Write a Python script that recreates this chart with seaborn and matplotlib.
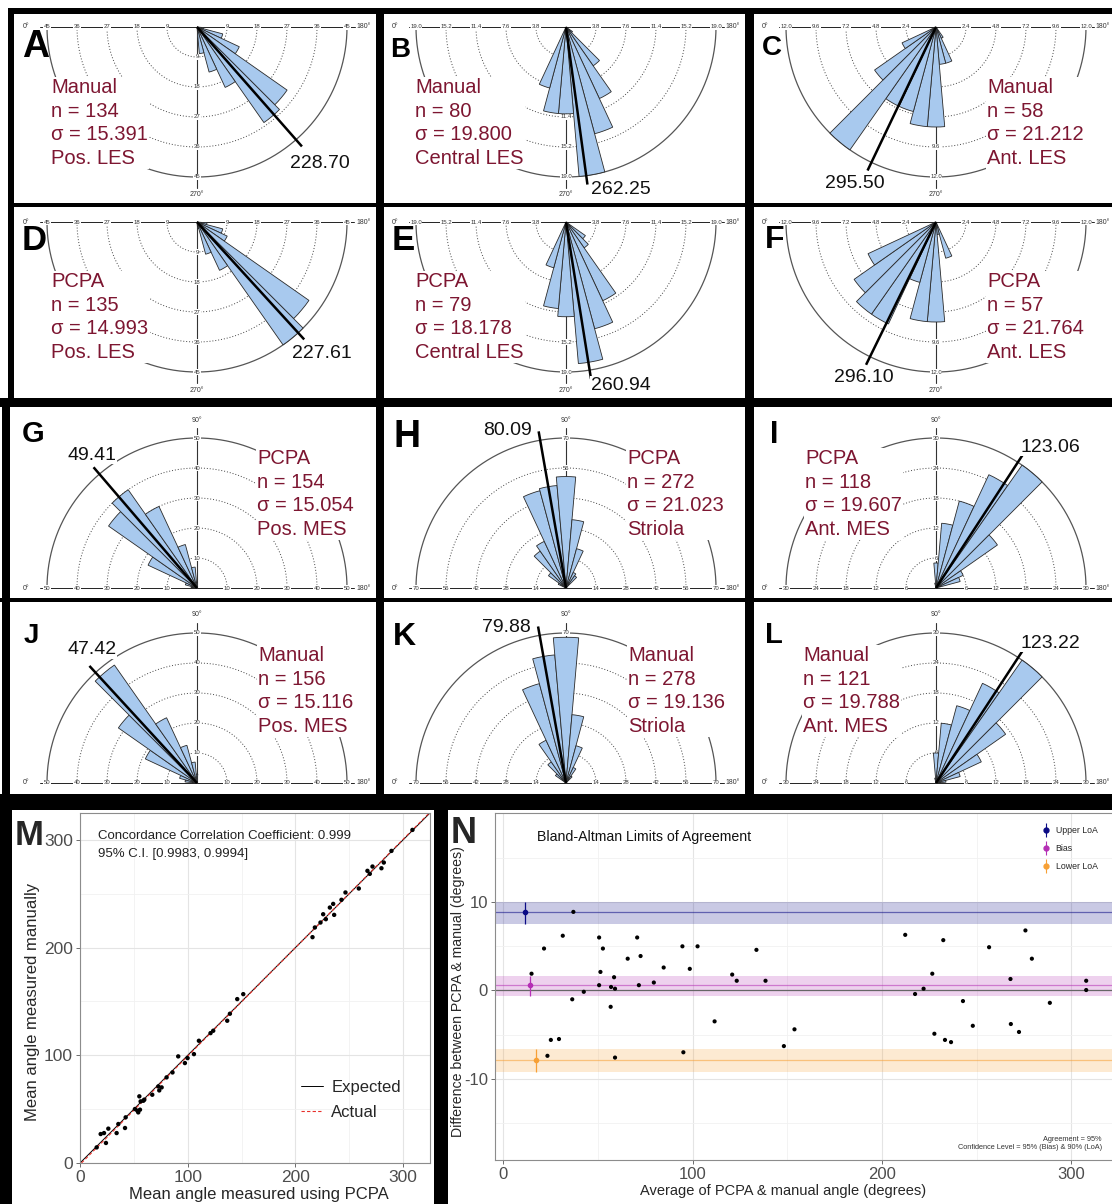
import numpy as np
import seaborn as sns
import matplotlib.pyplot as plt
from matplotlib import font_manager
from matplotlib.patches import Rectangle
from matplotlib.lines import Line2D
from matplotlib.legend_handler import HandlerTuple

# ---- rose diagrams: bin centre (deg) and count per 10 degree bin ----
A_bins = [190, 200, 210, 220, 230, 240, 250, 260]
A_counts = [2, 8, 14, 33, 35, 20, 14, 8]
B_bins = [220, 230, 240, 250, 260, 270, 280, 290]
B_counts = [1, 6, 10, 14, 19, 11, 11, 8]
C_bins = [240, 250, 260, 270, 280, 290, 300, 310, 320, 330]
C_counts = [1, 3, 3, 8, 8, 7, 7, 12, 6, 3]
D_bins = [190, 200, 210, 220, 230, 240, 250, 260]
D_counts = [3, 8, 10, 41, 45, 16, 10, 2]
E_bins = [220, 230, 240, 250, 260, 270, 280, 290]
E_counts = [3, 4, 11, 14, 18, 12, 11, 6]
F_bins = [250, 260, 270, 280, 290, 300, 310, 320, 330]
F_counts = [3, 1, 8, 8, 5, 9, 9, 8, 6]
G_bins = [10, 20, 30, 40, 50, 60, 70, 80, 90]
G_counts = [2, 4, 18, 36, 40, 30, 15, 7, 2]
H_bins = [30, 40, 50, 60, 70, 80, 90, 100, 110, 120, 130]
H_counts = [4, 10, 21, 24, 47, 48, 52, 32, 19, 8, 7]
I_bins = [80, 90, 100, 110, 120, 130, 140, 150, 160]
I_counts = [1, 5, 13, 18, 25, 30, 15, 6, 5]
J_bins = [10, 20, 30, 40, 50, 60, 70, 80, 90]
J_counts = [4, 6, 19, 32, 48, 24, 13, 7, 3]
K_bins = [40, 50, 60, 70, 80, 90, 100, 110, 120, 130]
K_counts = [6, 12, 22, 48, 60, 68, 32, 18, 8, 4]
L_bins = [80, 90, 100, 110, 120, 130, 140, 150, 160, 170]
L_counts = [1, 6, 12, 16, 22, 30, 17, 10, 5, 2]

rose_bins = [A_bins, B_bins, C_bins, D_bins, E_bins, F_bins,
             G_bins, H_bins, I_bins, J_bins, K_bins, L_bins]
rose_counts = [A_counts, B_counts, C_counts, D_counts, E_counts, F_counts,
               G_counts, H_counts, I_counts, J_counts, K_counts, L_counts]

letters = ["A", "B", "C", "D", "E", "F", "G", "H", "I", "J", "K", "L"]
methods = ["Manual", "Manual", "Manual", "PCPA", "PCPA", "PCPA",
           "PCPA", "PCPA", "PCPA", "Manual", "Manual", "Manual"]
n_obs = [134, 80, 58, 135, 79, 57, 154, 272, 118, 156, 278, 121]
sigmas = ["15.391", "19.800", "21.212", "14.993", "18.178", "21.764",
          "15.054", "21.023", "19.607", "15.116", "19.136", "19.788"]
regions = ["Pos. LES", "Central LES", "Ant. LES", "Pos. LES", "Central LES", "Ant. LES",
           "Pos. MES", "Striola", "Ant. MES", "Pos. MES", "Striola", "Ant. MES"]
mean_dir = [228.70, 262.25, 295.50, 227.61, 260.94, 296.10,
            49.41, 80.09, 123.06, 47.42, 79.88, 123.22]
r_max = [45, 19.0, 12.0, 45, 19.0, 12.0, 50, 70, 30, 50, 70, 30]
tick_fmt = ["{:.0f}", "{:.1f}", "{:.1f}", "{:.0f}", "{:.1f}", "{:.1f}",
            "{:.0f}", "{:.0f}", "{:.0f}", "{:.0f}", "{:.0f}", "{:.0f}"]

# ---- M: mean angle per sample ----
m_pcpa = [15.5, 19.2, 22.3, 24.1, 26.3, 34.0, 35.6, 41.8, 42.4, 51.0, 53.2, 54.1, 55.1,
          55.7, 56.3, 58.8, 59.7, 67.1, 72.7, 73.6, 75.8, 80.4, 85.9, 91.2, 97.4, 99.9,
          105.8, 110.4, 121.2, 123.7, 136.7, 139.2, 146.0, 151.6, 215.9, 218.1, 223.3,
          225.8, 228.3, 232.0, 235.1, 236.0, 242.8, 246.5, 258.9, 266.9, 269.1, 271.6,
          279.9, 282.1, 289.2, 308.7]
m_manual = [14.5, 26.9, 27.8, 18.6, 31.9, 27.8, 36.2, 32.5, 42.4, 50.1, 48.6, 47.0, 61.9,
            49.5, 57.2, 57.8, 58.8, 63.4, 71.1, 67.4, 70.2, 79.5, 84.1, 99.0, 92.8, 97.4,
            101.1, 113.5, 120.6, 122.8, 132.1, 138.6, 152.2, 156.8, 209.7, 218.7, 223.3,
            231.0, 226.4, 237.2, 240.6, 230.4, 244.4, 251.2, 254.9, 271.3, 268.5, 275.3,
            273.7, 279.0, 289.8, 309.3]

# ---- N: Bland-Altman ----
n_avg = [14.9, 21.5, 23.3, 25.1, 29.4, 31.4, 36.4, 37.0, 42.5, 50.6, 50.6, 51.3, 52.6,
         56.7, 56.9, 58.5, 59.0, 59.0, 65.7, 70.7, 71.6, 72.5, 79.5, 84.7, 94.6, 95.1,
         98.5, 102.6, 111.6, 120.9, 123.3, 133.7, 138.5, 148.2, 153.8, 212.3, 217.5,
         222.0, 226.6, 227.7, 232.4, 233.3, 236.5, 242.8, 248.0, 256.6, 267.9, 268.1,
         272.4, 275.8, 279.2, 288.7, 307.9, 307.9]
n_diff = [1.9, 4.75, -7.4, -5.6, -5.5, 6.2, -1.0, 8.9, -0.15, 6.0, 0.6, 2.1, 4.75,
          -1.85, 0.4, 1.5, 0.2, -7.6, 3.6, 6.0, 0.6, 3.9, 0.9, 2.6, 5.0, -7.0,
          2.45, 5.0, -3.5, 1.8, 1.1, 4.6, 1.1, -6.3, -4.4, 6.3, -0.4,
          0.2, 1.9, -4.9, 5.7, -5.6, -5.85, -1.2, -4.0, 4.9, 1.3, -3.8,
          -4.7, 6.8, 3.6, -1.4, 1.1, 0.05]
loa_names = ["Upper LoA", "Bias", "Lower LoA"]
loa_est = [8.87, 0.57, -7.85]
loa_lo = [7.5, -0.6, -9.2]
loa_hi = [10.05, 1.66, -6.6]
loa_x = [11.3, 14.2, 17.2]
loa_colors = ["#0b0b85", "#b52fb5", "#f7a035"]

# ---------------- layout (pixels, from top-left) ----------------
W, H, DPI = 1112, 1204, 100
R = 150
col_cx = [197, 566, 936]
row_cy = [27, 222, 588, 783]
stats_xy = [(51, 123), (415, 123), (987, 123), (51, 317), (415, 317), (987, 317),
            (257, 494), (627, 494), (805, 494), (258, 691), (628, 691), (803, 691)]
mean_xy = [(320, 163), (621, 190), (855, 184), (322, 354), (621, 385), (864, 377),
           (92, 455), (508, 430), (1050, 447), (92, 650), (506, 627), (1050, 643)]
letter_xy = [(22, 57), (390, 57), (762, 55), (22, 250), (392, 250), (765, 248),
             (22, 442), (393, 447), (770, 443), (24, 643), (393, 645), (765, 643)]
letter_size = [27, 20, 20, 25, 25, 23, 21, 27, 22, 20, 23, 21]
borders = [(8, 8, 1112, 14), (8, 8, 14, 400), (2, 398, 10, 800), (0, 794, 12, 1204),
           (376, 8, 384, 800), (745, 8, 754, 800), (8, 203, 1112, 207),
           (0, 398, 1112, 407), (0, 598, 1112, 602), (0, 794, 1112, 810),
           (434, 800, 448, 1204)]

STAT_COLOR = "#7d1631"
BAR_COLOR = "#a8c9ee"

sns.set_theme(style="white")
plt.rcParams["font.family"] = ["Liberation Sans", "DejaVu Sans"]
plt.rcParams["axes.unicode_minus"] = False
installed = {f.name for f in font_manager.fontManager.ttflist}
NARROW = "Liberation Sans Narrow" if "Liberation Sans Narrow" in installed else "Liberation Sans"


def fx(px):
    return px / W


def fy(py):
    return 1 - py / H


fig = plt.figure(figsize=(W / DPI, H / DPI), dpi=DPI)
fig.patch.set_facecolor("white")

# ---------------- rose diagrams ----------------
for i in range(12):
    row, col = divmod(i, 3)
    cx, cy = col_cx[col], row_cy[row]
    upper = row >= 2
    rmax = r_max[i]
    ax = fig.add_axes([fx(cx - R), fy(cy + R), 2 * R / W, 2 * R / H], projection="polar")
    ax.set_theta_zero_location("W")
    ax.set_theta_direction(-1)
    ax.set_ylim(0, rmax)
    ax.axis("off")

    a0, a1 = (0, 180) if upper else (180, 360)
    vert = 90 if upper else 270
    arc = np.deg2rad(np.linspace(a0, a1, 241))
    ticks = [rmax * k / 5 for k in range(1, 6)]
    for r in ticks[:-1]:
        ax.plot(arc, np.full_like(arc, r), ls=(0, (1, 2)), color="#444444", lw=0.7,
                zorder=1, clip_on=False)
    ax.plot(arc, np.full_like(arc, rmax), color="#555555", lw=0.9, zorder=1, clip_on=False)
    for t in (0, 180):
        ax.plot(np.deg2rad([t, t]), [0, 1.05 * rmax], color="#222222", lw=0.7,
                zorder=1, clip_on=False)
    ax.plot(np.deg2rad([vert, vert]), [0, 1.07 * rmax], color="#333333", lw=0.8,
            zorder=1, clip_on=False)
    for r in ticks:
        lab = tick_fmt[i].format(r)
        for t in (0, 180, vert):
            ax.text(np.deg2rad(t), r, lab, fontsize=4.3, color="#333333", ha="center",
                    va="center", zorder=2,
                    bbox=dict(fc="white", ec="none", pad=0.4))
    ax.text(0, 1.14 * rmax, "0°", fontsize=5, color="#333333", ha="center", va="center")
    ax.text(np.pi, 1.11 * rmax, "180°", fontsize=5, color="#333333", ha="center", va="center")
    ax.text(np.deg2rad(vert), 1.12 * rmax, f"{vert}°", fontsize=5, color="#333333",
            ha="center", va="center")

    ax.bar(np.deg2rad(rose_bins[i]), rose_counts[i], width=np.deg2rad(10),
           color=BAR_COLOR, edgecolor="#2a2a2a", linewidth=0.6, zorder=3, clip_on=False)
    md = np.deg2rad(mean_dir[i])
    ax.plot([md, md], [0, 1.06 * rmax], color="black", lw=1.8, zorder=4,
            clip_on=False, solid_capstyle="butt")

    mx, my = mean_xy[i]
    fig.text(fx(mx), fy(my), f"{mean_dir[i]:.2f}", fontsize=14, ha="center", va="center",
             color="#111111", bbox=dict(fc="white", ec="none", pad=0.5))
    sx, sy = stats_xy[i]
    fig.text(fx(sx), fy(sy), f"{methods[i]}\nn = {n_obs[i]}\nσ = {sigmas[i]}\n{regions[i]}",
             fontsize=14.5, ha="left", va="center", color=STAT_COLOR, linespacing=1.3,
             bbox=dict(fc="white", ec="none", pad=1))
    lx, ly = letter_xy[i]
    fig.text(fx(lx), fy(ly), letters[i], fontsize=letter_size[i], fontweight="bold",
             ha="left", va="baseline", color="black")

# ---------------- M: concordance ----------------
axm = fig.add_axes([fx(80), fy(1163), 350 / W, 350 / H])
axm.set_facecolor("white")
sns.scatterplot(x=m_pcpa, y=m_manual, color="black", s=10, edgecolor="none", ax=axm,
                zorder=3)
axm.axline((0, 0), slope=1, color="black", lw=0.7, label="Expected", zorder=2)
fit = np.polyfit(m_pcpa, m_manual, 1)
axm.axline((0, fit[1]), slope=fit[0], color="#e8302a", lw=0.8, ls=(0, (3, 2)),
           label="Actual", zorder=2)
axm.set_xlim(0, 325)
axm.set_ylim(0, 325)
axm.set_xticks([0, 100, 200, 300])
axm.set_yticks([0, 100, 200, 300])
axm.set_xticks([50, 150, 250], minor=True)
axm.set_yticks([50, 150, 250], minor=True)
axm.grid(True, which="major", color="#e4e4e4", lw=0.8)
axm.grid(True, which="minor", color="#f1f1f1", lw=0.6)
axm.set_axisbelow(True)
axm.tick_params(which="major", labelsize=12.5, labelcolor="#4d4d4d", length=3,
                color="#555555", width=0.6, left=True, bottom=True, pad=2)
axm.tick_params(which="minor", length=0)
for sp in axm.spines.values():
    sp.set_color("#8c8c8c")
    sp.set_linewidth(0.8)
axm.set_xlabel("Mean angle measured using PCPA", fontsize=12)
axm.set_ylabel("Mean angle measured manually", fontsize=12)
axm.xaxis.set_label_coords(0.51, -0.07)
axm.yaxis.set_label_coords(-0.115, 0.46)
axm.text(0.051, 0.952, "Concordance Correlation Coefficient: 0.999\n95% C.I. [0.9983, 0.9994]",
         transform=axm.transAxes, ha="left", va="top", fontsize=9.5, linespacing=1.7,
         family=NARROW, color="#222222")
axm.legend(loc="lower right", bbox_to_anchor=(0.96, 0.08), frameon=False,
           prop={"family": NARROW, "size": 12}, handlelength=1.3, labelspacing=0.6,
           handletextpad=0.5)
fig.text(fx(15), fy(845), "M", fontsize=25, fontweight="bold", ha="left", va="baseline")

# ---------------- N: Bland-Altman ----------------
axn = fig.add_axes([fx(495), fy(1160), 630 / W, 347 / H])
axn.set_facecolor("white")
for lo, hi, est, c in zip(loa_lo, loa_hi, loa_est, loa_colors):
    axn.axhspan(lo, hi, color=c, alpha=0.22, lw=0, zorder=1)
    axn.axhline(est, color=c, alpha=0.55, lw=0.9, zorder=1.5)
axn.axhline(0, color="#666666", lw=0.9, zorder=1.6)
sns.scatterplot(x=n_avg, y=n_diff, color="black", s=9, edgecolor="none", ax=axn, zorder=3)
for x, lo, hi, est, c in zip(loa_x, loa_lo, loa_hi, loa_est, loa_colors):
    axn.errorbar([x], [est], yerr=[[est - lo], [hi - est]], fmt="o", color=c, ms=3,
                 elinewidth=0.9, capsize=0, zorder=4)
axn.set_xlim(-4.4, 328.4)
axn.set_ylim(-19.2, 20.1)
axn.set_xticks([0, 100, 200, 300])
axn.set_yticks([-10, 0, 10])
axn.set_xticks([50, 150, 250], minor=True)
axn.set_yticks([-15, -5, 5, 15], minor=True)
axn.grid(True, which="major", color="#e4e4e4", lw=0.8)
axn.grid(True, which="minor", color="#f1f1f1", lw=0.6)
axn.set_axisbelow(True)
axn.tick_params(which="major", labelsize=12, labelcolor="#4d4d4d", length=3,
                color="#555555", width=0.6, left=True, bottom=True, pad=2)
axn.tick_params(which="minor", length=0)
for sp in axn.spines.values():
    sp.set_color("#8c8c8c")
    sp.set_linewidth(0.8)
axn.spines["right"].set_visible(False)
axn.set_xlabel("Average of PCPA & manual angle (degrees)", fontsize=10.5, family=NARROW)
axn.set_ylabel("Difference between PCPA & manual (degrees)", fontsize=10.2)
axn.xaxis.set_label_coords(0.457, -0.07)
axn.yaxis.set_label_coords(-0.047, 0.485)
axn.text(0.066, 0.93, "Bland-Altman Limits of Agreement", transform=axn.transAxes,
         ha="left", va="center", fontsize=10.2, family=NARROW, color="#111111")
axn.text(0.963, 0.025, "Agreement = 95%\nConfidence Level = 95% (Bias) & 90% (LoA)",
         transform=axn.transAxes, ha="right", va="bottom", fontsize=5.3, family=NARROW,
         color="#333333", multialignment="right")
handles = [(Line2D([], [], ls="none", marker="o", color=c, ms=3.5),
            Line2D([], [], ls="none", marker="|", color=c, ms=10, mew=0.8))
           for c in loa_colors]
axn.legend(handles, loa_names, handler_map={tuple: HandlerTuple()}, loc="upper left",
           bbox_to_anchor=(0.855, 0.985), frameon=False,
           prop={"family": NARROW, "size": 6.3}, handlelength=1.0, labelspacing=1.0,
           handletextpad=0.6)
fig.text(fx(451), fy(843), "N", fontsize=26, fontweight="bold", ha="left", va="baseline")

# ---------------- panel frames ----------------
for x0, y0, x1, y1 in borders:
    fig.add_artist(Rectangle((fx(x0), fy(y1)), (x1 - x0) / W, (y1 - y0) / H,
                             transform=fig.transFigure, facecolor="black",
                             edgecolor="none", zorder=20))

fig.savefig("out.png", dpi=DPI)
